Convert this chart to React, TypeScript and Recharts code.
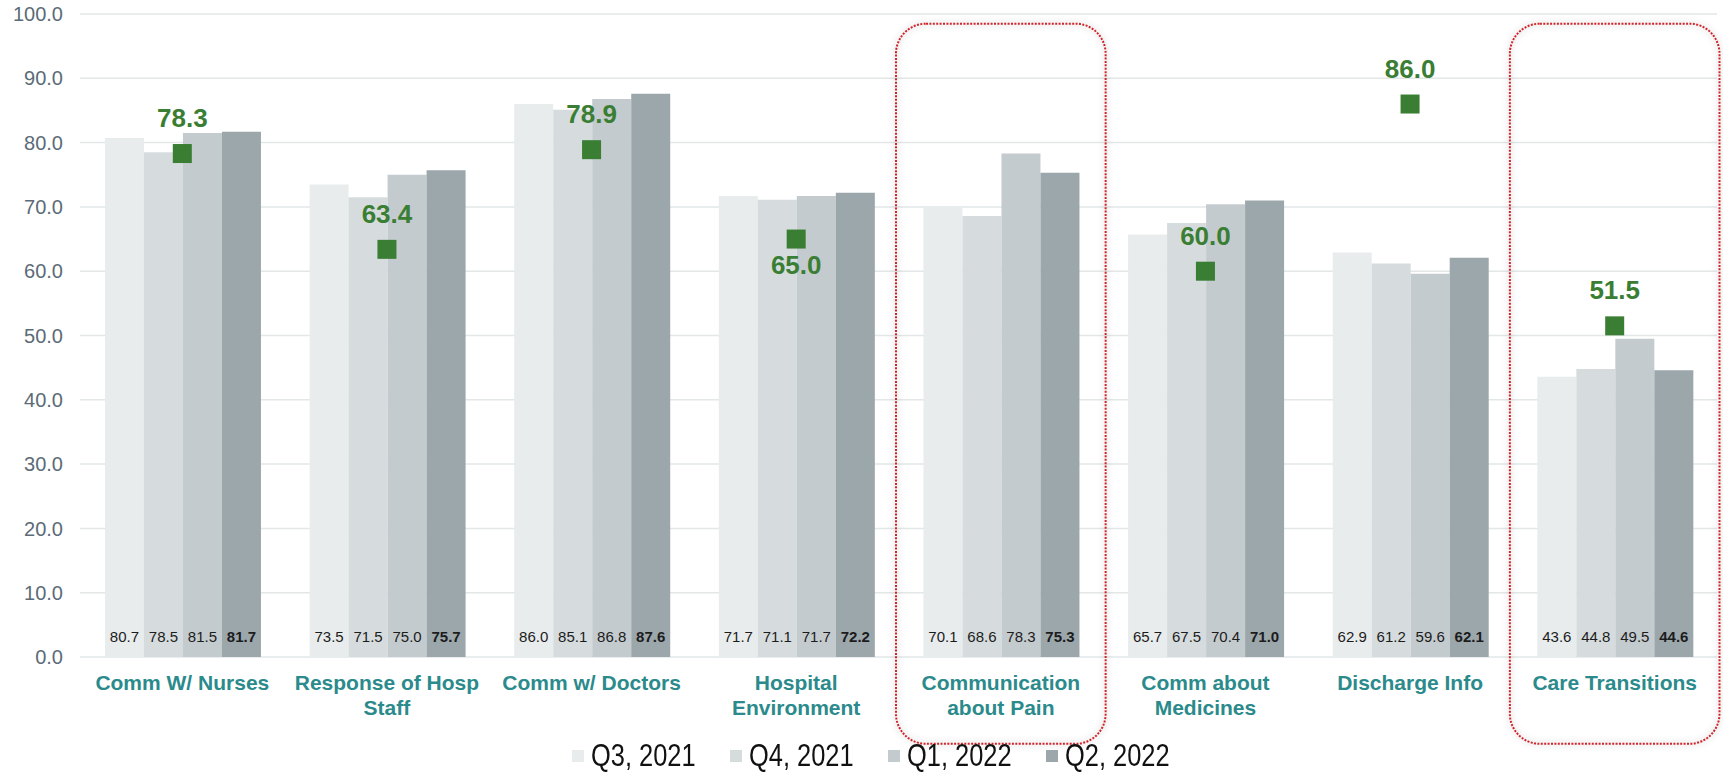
import React from 'react';
import {
  ComposedChart,
  Bar,
  Line,
  XAxis,
  YAxis,
  CartesianGrid,
  Legend,
  LabelList,
  ReferenceArea,
} from 'recharts';

// HCAHPS domains shown along the x axis ("\n" marks a line break)
const categories = [
  'Comm W/ Nurses',
  'Response of Hosp\nStaff',
  'Comm w/ Doctors',
  'Hospital\nEnvironment',
  'Communication\nabout Pain',
  'Comm about\nMedicines',
  'Discharge Info',
  'Care Transitions',
];

// Quarterly scores
const q3_2021 = [80.7, 73.5, 86.0, 71.7, 70.1, 65.7, 62.9, 43.6];
const q4_2021 = [78.5, 71.5, 85.1, 71.1, 68.6, 67.5, 61.2, 44.8];
const q1_2022 = [81.5, 75.0, 86.8, 71.7, 78.3, 70.4, 59.6, 49.5];
const q2_2022 = [81.7, 75.7, 87.6, 72.2, 75.3, 71.0, 62.1, 44.6];

// Benchmark / target per domain (none for pain communication)
const targets: (number | null)[] = [78.3, 63.4, 78.9, 65.0, null, 60.0, 86.0, 51.5];

const seriesNames = ['Q3, 2021', 'Q4, 2021', 'Q1, 2022', 'Q2, 2022'];
const yTicks = [0, 10, 20, 30, 40, 50, 60, 70, 80, 90, 100];

// Domains circled for attention
const highlighted = ['Communication\nabout Pain', 'Care Transitions'];

const data = categories.map((name, i) => ({
  name,
  q3_2021: q3_2021[i],
  q4_2021: q4_2021[i],
  q1_2022: q1_2022[i],
  q2_2022: q2_2022[i],
  target: targets[i],
}));

// Target labels that sit under their marker instead of above it
const labelBelowMarker = new Set(['Hospital\nEnvironment']);

const FONT = '"Liberation Sans", Arial, Helvetica, sans-serif';
const TEAL = '#2b8a8b';
const GREEN = '#3a7e34';
const AXIS_GREY = '#5b6b77';

const series = [
  { key: 'q3_2021', name: seriesNames[0], color: '#e8eced', bold: false },
  { key: 'q4_2021', name: seriesNames[1], color: '#d6dcde', bold: false },
  { key: 'q1_2022', name: seriesNames[2], color: '#c4cbce', bold: false },
  { key: 'q2_2022', name: seriesNames[3], color: '#9ca7ac', bold: true },
];

const CategoryTick = (props: any) => {
  const { x, y, payload } = props;
  const lines = String(payload.value).split('\n');
  return (
    <g>
      <text
        x={x}
        y={y}
        textAnchor="middle"
        fontSize={21}
        fontWeight="bold"
        fill={TEAL}
        fontFamily={FONT}
      >
        {lines.map((line, i) => (
          <tspan key={i} x={x} dy={i === 0 ? 33 : 25}>
            {line}
          </tspan>
        ))}
      </text>
    </g>
  );
};

const makeValueLabel = (bold: boolean) => (props: any) => {
  const { x, y, width, height, value } = props;
  if (value == null) return null;
  return (
    <text
      x={Number(x) + Number(width) / 2}
      y={Number(y) + Number(height) - 14.6}
      textAnchor="middle"
      fontSize={15}
      fontWeight={bold ? 'bold' : 'normal'}
      fill="#1c1c1c"
      fontFamily={FONT}
    >
      {Number(value).toFixed(1)}
    </text>
  );
};

const TargetDot = (props: any) => {
  const { cx, cy, value, index } = props;
  if (value == null || cy == null || isNaN(cy)) return <g key={`td-${index}`} />;
  return <rect key={`td-${index}`} x={cx - 9.5} y={cy - 9.5} width={19} height={19} fill={GREEN} />;
};

const TargetLabel = (props: any) => {
  const { x, y, value, index } = props;
  if (value == null || y == null || isNaN(Number(y))) return null;
  const below = labelBelowMarker.has(categories[index]);
  return (
    <text
      x={x}
      y={below ? Number(y) + 34.6 : Number(y) - 26.5}
      textAnchor="middle"
      fontSize={26}
      fontWeight="bold"
      fill={GREEN}
      fontFamily={FONT}
    >
      {Number(value).toFixed(1)}
    </text>
  );
};

const HighlightBox = (props: any) => {
  const { x, y, width, height } = props;
  return (
    <g>
      <rect
        x={x - 2.5}
        y={y}
        width={width + 5}
        height={height}
        rx={30}
        ry={30}
        fill="none"
        stroke="#000"
        strokeOpacity={0.08}
        strokeWidth={5}
        filter="url(#boxGlow)"
      />
      <rect
        x={x - 2.5}
        y={y}
        width={width + 5}
        height={height}
        rx={30}
        ry={30}
        fill="none"
        stroke="#d3232a"
        strokeWidth={2}
        strokeDasharray="2 1.4"
      />
    </g>
  );
};

// Legend entries use a condensed face, drawn by squeezing the regular one
const LegendContent = () => (
  <div
    style={{
      display: 'flex',
      justifyContent: 'center',
      alignItems: 'center',
      height: 36,
      paddingLeft: 28,
      gap: 31,
      fontFamily: FONT,
      fontSize: 31,
      color: '#111',
    }}
  >
    {series.map((s) => (
      <div key={s.key} style={{ display: 'flex', alignItems: 'center' }}>
        <span
          style={{ display: 'inline-block', width: 12, height: 12, background: s.color, marginRight: 7 }}
        />
        <span style={{ display: 'inline-block', width: 108, whiteSpace: 'nowrap', overflow: 'visible' }}>
          <span
            style={{
              display: 'inline-block',
              transform: 'scaleX(0.82)',
              transformOrigin: 'left center',
            }}
          >
            {s.name}
          </span>
        </span>
      </div>
    ))}
  </div>
);

export default function App() {
  return (
    <div style={{ position: 'absolute', left: 0, top: 0, width: 1723, height: 774, background: '#fff' }}>
      <ComposedChart
        width={1723}
        height={774}
        data={data}
        margin={{ top: 14, right: 6, bottom: 0, left: 0 }}
        barCategoryGap="12.2%"
        barGap={0}
      >
        <defs>
          <filter id="boxGlow" x="-10%" y="-10%" width="120%" height="120%">
            <feGaussianBlur stdDeviation="3" />
          </filter>
        </defs>
        <CartesianGrid vertical={false} stroke="#e3e7e8" strokeWidth={1.5} />
        <XAxis
          dataKey="name"
          axisLine={false}
          tickLine={false}
          tickSize={0}
          tickMargin={0}
          height={81}
          interval={0}
          tick={<CategoryTick />}
        />
        <YAxis
          domain={[0, 100]}
          ticks={yTicks}
          axisLine={false}
          tickLine={false}
          tickSize={0}
          tickMargin={17}
          width={80}
          tickFormatter={(v: number) => v.toFixed(1)}
          tick={{ fontSize: 20, fill: AXIS_GREY, fontFamily: FONT }}
        />
        {highlighted.map((cat) => (
          <ReferenceArea
            key={cat}
            x1={cat}
            x2={cat}
            y1={-13.5}
            y2={98.5}
            ifOverflow="visible"
            shape={<HighlightBox />}
          />
        ))}
        {series.map((s) => (
          <Bar key={s.key} dataKey={s.key} name={s.name} fill={s.color} isAnimationActive={false}>
            <LabelList dataKey={s.key} content={makeValueLabel(s.bold)} />
          </Bar>
        ))}
        <Line
          dataKey="target"
          name="Target"
          stroke="none"
          dot={<TargetDot />}
          activeDot={false}
          legendType="none"
          isAnimationActive={false}
        >
          <LabelList dataKey="target" content={<TargetLabel />} />
        </Line>
        <Legend verticalAlign="bottom" height={36} content={<LegendContent />} />
      </ComposedChart>
    </div>
  );
}
